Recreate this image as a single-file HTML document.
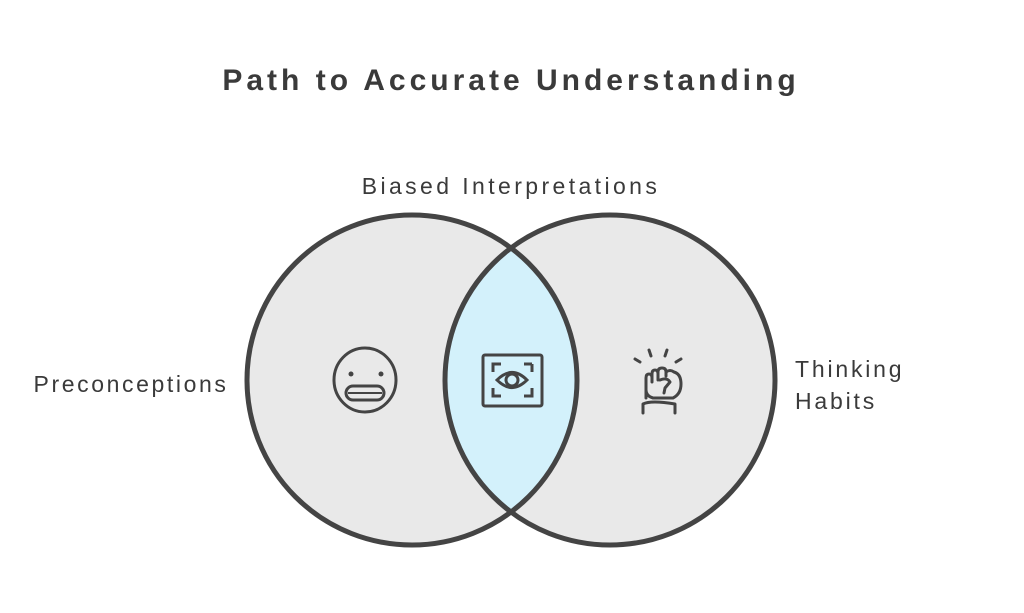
<!DOCTYPE html>
<html><head><meta charset="utf-8"><style>
html,body{margin:0;padding:0;background:#fff;}
svg{display:block;}
text{font-family:"Liberation Sans",sans-serif;fill:#3a3a3a;}
</style></head><body>
<svg width="1024" height="613" viewBox="0 0 1024 613" xmlns="http://www.w3.org/2000/svg">
<defs>
<clipPath id="cl"><circle cx="412" cy="380" r="165"/></clipPath>
</defs>
<text x="511" y="90" text-anchor="middle" font-size="30" font-weight="bold" letter-spacing="4">Path to Accurate Understanding</text>
<text x="511" y="194" text-anchor="middle" font-size="23" letter-spacing="3.4">Biased Interpretations</text>
<text x="131" y="392" text-anchor="middle" font-size="23" letter-spacing="2.6">Preconceptions</text>
<text x="795" y="377" font-size="23" letter-spacing="2.8">Thinking</text>
<text x="795" y="409" font-size="23" letter-spacing="2.8">Habits</text>
<circle cx="412" cy="380" r="165" fill="#e9e9e9"/>
<circle cx="610" cy="380" r="165" fill="#e9e9e9"/>
<circle cx="610" cy="380" r="165" fill="#d3f1fb" clip-path="url(#cl)"/>
<circle cx="412" cy="380" r="165" fill="none" stroke="#444" stroke-width="5"/>
<circle cx="610" cy="380" r="165" fill="none" stroke="#444" stroke-width="5"/>
<!-- face -->
<g fill="none" stroke="#444" stroke-width="3">
<ellipse cx="365" cy="380" rx="31" ry="32"/>
<rect x="346" y="386" width="38" height="14" rx="7"/>
<line x1="348" y1="393" x2="382" y2="393" stroke-width="2"/>
</g>
<circle cx="351" cy="374" r="2.5" fill="#444"/><circle cx="381" cy="374" r="2.5" fill="#444"/>
<!-- eye box -->
<g fill="none" stroke="#444" stroke-width="3">
<rect x="483" y="355" width="59" height="51" rx="2"/>
<path d="M493 372v-8h8M532 364h-8M532 364v8M493 388v8h8M532 388v8h-8"/>
<path d="M497 380q15-15 30 0q-15 15-30 0z"/>
<circle cx="512" cy="380" r="6"/>
</g>
<!-- fist -->
<g fill="none" stroke="#444" stroke-width="3" stroke-linecap="round" stroke-linejoin="round">
<path d="M640 362l-5-3M651 356l-2-6M665 356l2-6M676 362l5-3"/>
<path d="M646 398v-20q0-4 3-4t3 4v4M652 382v-8q0-4 3-4t3 4v6M658 378v-6q0-4 4-4t4 4v4M666 372q4-3 8 0q7 2 7 12q0 10-8 14h-20q-7-2-7-8"/>
<path d="M660 380q7-3 10 2l-5 6l-1 5"/>
<path d="M643 413v-9q8-4 32 0v9"/>
</g>
</svg>
</body></html>
